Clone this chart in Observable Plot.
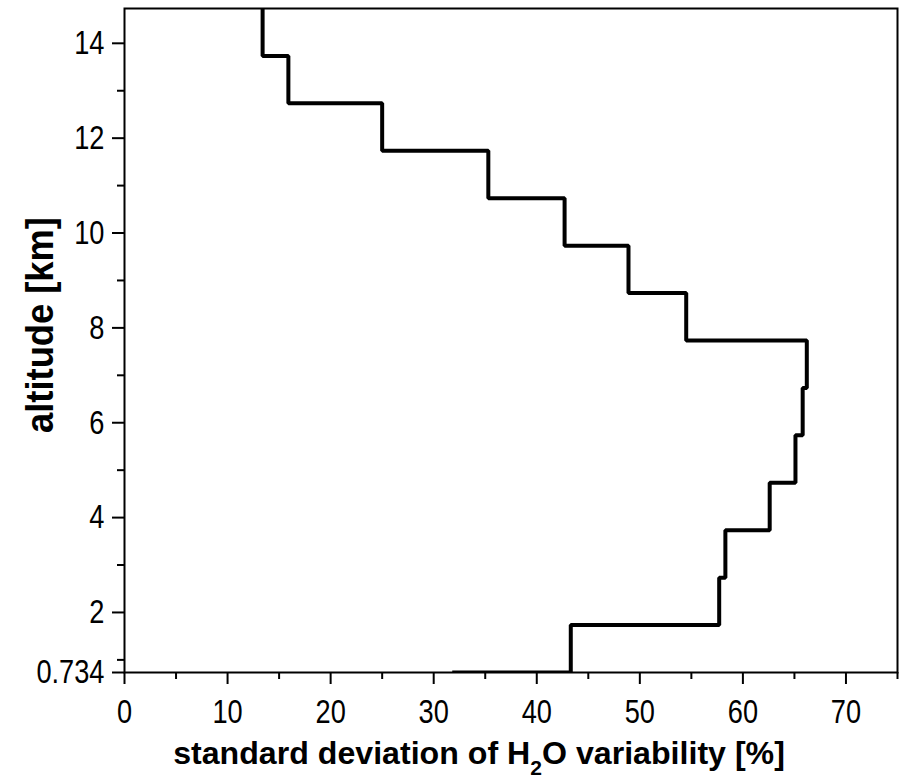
<!DOCTYPE html>
<html><head><meta charset="utf-8">
<script src="https://cdn.jsdelivr.net/npm/d3@7"></script>
<script src="https://cdn.jsdelivr.net/npm/@observablehq/plot@0.6"></script>
<style>body{margin:0;background:#fff}</style>
</head><body><div id="chart"></div>
<script>
// layer bottoms (km) and standard deviation values (%)
const layerBottom = [0.734, 1.734, 2.734, 3.734, 4.734, 5.734, 6.734, 7.734, 8.734, 9.734, 10.734, 11.734, 12.734, 13.734];
const layerTop = [1.734, 2.734, 3.734, 4.734, 5.734, 6.734, 7.734, 8.734, 9.734, 10.734, 11.734, 12.734, 13.734, 14.734];
const stdDev = [43.3, 57.7, 58.3, 62.6, 65.1, 65.8, 66.2, 54.5, 48.9, 42.7, 35.3, 25.0, 15.9, 13.4];
const startValue = 31.8;
const yMajorTicks = [0.734, 2, 4, 6, 8, 10, 12, 14];
const yMinorTicks = [1, 3, 5, 7, 9, 11, 13];
const xMajorTicks = [0, 10, 20, 30, 40, 50, 60, 70];
const xMinorTicks = [5, 15, 25, 35, 45, 55, 65, 75];

const pts = [{x: startValue, y: layerBottom[0]}];
stdDev.forEach((v, i) => { pts.push({x: v, y: layerBottom[i]}); pts.push({x: v, y: layerTop[i]}); });

const font = "'Liberation Sans',Arial,sans-serif";
const plot = Plot.plot({
  width: 903, height: 782,
  marginLeft: 124, marginRight: 6, marginTop: 8, marginBottom: 110,
  style: {fontFamily: font, fontSize: "34px", color: "black", background: "white"},
  x: {domain: [0, 75], label: null},
  y: {domain: [0.734, 14.734], label: null},
  marks: [
    Plot.line(pts, {x: "x", y: "y", stroke: "black", strokeWidth: 4, clip: "frame", strokeLinejoin: "miter", strokeLinecap: "butt"}),
    Plot.frame({stroke: "black", strokeWidth: 2}),
    Plot.axisX(xMajorTicks, {tickSize: 12, tickPadding: 14, strokeWidth: 2, label: null, tickFormat: d => String(d)}),
    Plot.axisX(xMinorTicks, {tickSize: 7, strokeWidth: 2, label: null, tickFormat: () => ""}),
    Plot.axisY(yMajorTicks, {tickSize: 12, tickPadding: 8, strokeWidth: 2, label: null, tickFormat: d => String(d)}),
    Plot.axisY(yMinorTicks, {tickSize: 7, strokeWidth: 2, label: null, tickFormat: () => ""})
  ]
});
document.getElementById("chart").appendChild(plot);
const svg = d3.select(plot);
// condensed tick labels
svg.selectAll('g[aria-label$="tick label"] text').each(function() {
  this.style.fontSize = "34px";
  const L = this.getComputedTextLength();
  if (L > 0) { this.setAttribute("textLength", L * 0.8); this.setAttribute("lengthAdjust", "spacingAndGlyphs"); }
});
const yl = svg.append("text")
  .attr("text-anchor", "middle")
  .style("font-family", font).style("font-weight", "bold").style("font-size", "38px")
  .text("altitude [km]");
const ylw = yl.node().getComputedTextLength();
yl.attr("transform", `translate(53,325) rotate(-90) scale(${216 / ylw},1)`);
const xl = svg.append("text")
  .attr("text-anchor", "middle")
  .style("font-family", font).style("font-weight", "bold").style("font-size", "32px");
xl.append("tspan").text("standard deviation of H");
xl.append("tspan").attr("dy", 11).style("font-size", "21px").text("2");
xl.append("tspan").attr("dy", -11).text("O variability [%]");
const xlw = xl.node().getBBox().width;
xl.attr("transform", `translate(479,764) scale(${612 / xlw},1)`);
</script></body></html>
